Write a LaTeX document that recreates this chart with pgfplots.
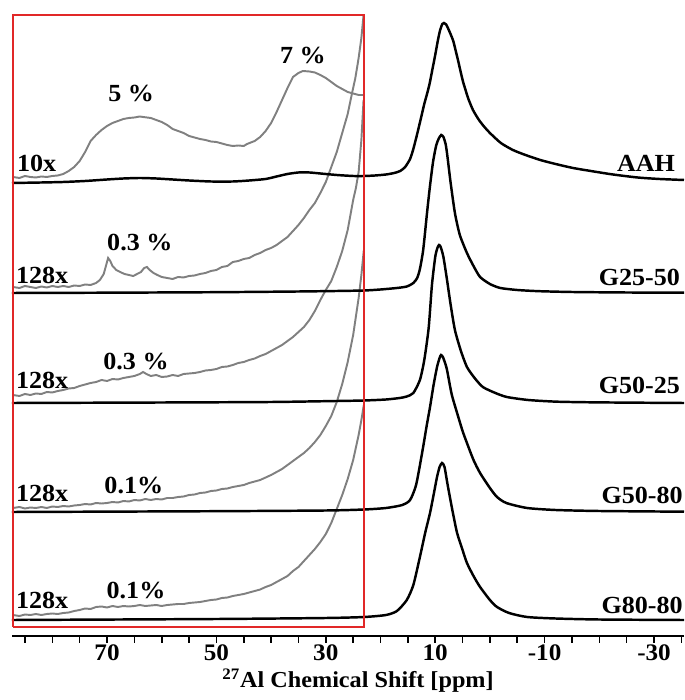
\documentclass[border=0pt]{standalone}
\usepackage{fontspec}
\setmainfont{Liberation Serif}[FakeStretch=1.06]
\usepackage{pgfplots}
\pgfplotsset{compat=1.18}
\definecolor{boxRed}{RGB}{225,40,40}
\definecolor{magGray}{RGB}{128,128,128}
\newcommand{\lab}{\fontsize{14}{16}\selectfont\bfseries}

\begin{document}
\begin{tikzpicture}
\useasboundingbox (-0.24,-1.28) rectangle (13.44,12.72);
\begin{axis}[
    width=13.44cm, height=12.44cm, scale only axis,
    x dir=reverse,
    xmin=-35.48, xmax=87.37,
    ymin=64, ymax=686,
    axis x line*=bottom,
    hide y axis,
    axis line style={line width=1.1pt},
    xtick={-30,-10,10,30,50,70},
    xticklabels={-30,-10,10,30,50,70},
    minor xtick={-35,-25,-20,-15,-5,0,5,15,20,25,35,40,45,55,60,65,75,80,85},
    tick align=outside,
    major tick length=0.13cm, minor tick length=0.13cm,
    tick style={line width=0.9pt, black},
    ticklabel style={font=\fontsize{13.5}{15}\selectfont\bfseries},
    xticklabel style={yshift=2.5pt},
    xlabel={\textsuperscript{27}Al Chemical Shift [ppm]},
    xlabel style={font=\fontsize{13}{15}\selectfont\bfseries, yshift=2pt, xshift=0.2cm},
    clip=false,
]
% magnified traces (gray)
\addplot[magGray, line width=1.1pt] coordinates {
(87.2,523)(86,522)(85,524)(84,523)(83,522.5)(82,523.5)(81,523)(80,524)(79,524.5)(78,526)
(77,529)(76,533)(75,539)(74,548)(73,559)(72,565)(71,570)(70,574)(69,577)(68,579)
(67,581)(66,582)(65,582.5)(64,583.5)(63.4,583)(62,582)(61,580)(60,578)(59,575)(58,571)
(57,569)(56,567)(55,564)(54,562.5)(53,561)(52,560)(51,558.5)(50,558)(49,556.5)(48,555)
(47,554)(46,554.5)(45,554)(44.4,556)(43,559)(42,563)(41,569)(40,577)(39,588)(38,600)
(37,612)(36,623)(35,627)(34.2,629)(33,628.5)(32,627.5)(31,625)(30,622)(29,618)(28,614)
(27,611)(26,608)(25,606.5)(24,605)(23.05,605)};
\addplot[magGray, line width=1.1pt] coordinates {
(87.2,413)(86,412)(85,414)(84,413)(83,412)(82,413.5)(81,412.5)(80,414)(79,413)(78,414)
(77,413)(76,414.5)(75,414)(74,415.5)(73,415)(72,417)(71.3,420)(70.6,426)(70.1,436)(69.8,442)
(69.4,439)(69,434)(68.3,430)(67.6,428)(66.8,426)(66,425)(65.2,424)(64.5,426)(63.8,428)(63.2,432)
(62.7,433)(62.2,430)(61.5,427)(60.8,425)(60,423)(59,422)(58,421)(57,423)(56,422.5)(55,424)
(54,424.5)(53,426)(52,427)(51,429)(50,430)(49,433)(48,434)(47,438)(46,439)(45,441)
(44,442)(43,445)(42,447)(41,450)(40,452)(39,455)(38,459)(37,463)(36,469)(35,475)
(34,482)(33,490)(32,497)(31,507)(30,518)(29,533)(28,548)(27,567)(26,586)(25.2,607)
(24.6,622)(24,642)(23.5,662)(23.1,685)};
\addplot[magGray, line width=1.1pt] coordinates {
(87.2,305)(86,304)(85,306)(84,305)(83,306.5)(82,306)(81,308)(80,307.5)(79,309)(78,310)
(77,311.5)(76,312)(75,314)(74,315.5)(73,317)(72,318)(71,320)(70,319)(69,321)(68,320.5)
(67,322)(66,323)(65,324)(64,326)(63.4,328)(62.8,326)(62,324)(61,325)(60,323)(59,323.5)
(58,325)(57,324)(56,326)(55,326.5)(54,327)(53,328)(52,329.5)(51,330)(50,331)(49,333)
(48,333.5)(47,335)(46,337)(45,338)(44,340)(43,341.5)(42,344)(41,346)(40,349)(39,352)
(38,355)(37,359)(36,363)(35,368)(34,373)(33,380)(32,389)(31,400)(30,410)(29,419)
(28,433)(27,449)(26,470)(25,500)(24.5,512)(24,528)(23.5,560)(23.1,600)};
\addplot[magGray, line width=1.1pt] coordinates {
(87.2,192)(86,193)(85,191.5)(84,192.5)(83,192)(82,193)(81,192)(80,193.5)(79,193)(78,194)
(77,193.5)(76,194.5)(75,195)(74,196)(73,195.5)(72,197)(71,196.5)(70,197)(69,198)(68,197.5)
(67,199)(66,198.5)(65,200)(64,199.5)(63,201)(62,200)(61,201)(60,200.5)(59,202)(58,202)
(57,203)(56,203.5)(55,205)(54,205.5)(53,207)(52,207.5)(51,209)(50,209.5)(49,211)(48,211.5)
(47,213)(46,214)(45,215)(44,217)(43,218.5)(42,220)(41,222.5)(40,225)(39,228)(38,231)
(37,235)(36,239)(35,243)(34,247)(33,252)(32,258)(31,265)(30,274)(29,284)(28,298)
(27,316)(26,338)(25,365)(24,402)(23.5,425)(23.05,450)};
\addplot[magGray, line width=1.1pt] coordinates {
(87.2,85)(86,84)(85,85.5)(84,85)(83,86)(82,85)(81,86)(80,86.5)(79,86)(78,87)
(77,87.5)(76,89)(75,90)(74,91.5)(73,91)(72,93)(71,93.5)(70,92.5)(69,94)(68,93)
(67,94)(66,93.5)(65,94)(64,95)(63,94)(62,94.5)(61,95)(60,94)(59,95)(58,95.5)
(57,96)(56,96)(55,97)(54,97.5)(53,98)(52,99)(51,100)(50,100.5)(49,102)(48,102.5)
(47,104)(46,105)(45,106)(44,107.5)(43,109)(42,110.5)(41,113)(40,115)(39,118)(38,121)
(37,124)(36,129)(35,133)(34,139)(33,145)(32,151)(31,158)(30,166)(29,177)(28,191)
(27,205)(26,221)(25,240)(24,265)(23.5,280)(23.05,295)};
% full spectra (black)
\addplot[black, line width=1.4pt, smooth, tension=0.4] coordinates {
(87.37,517)(82,517.5)(78,518)(74,519)(70,520.5)(67,521.5)(64,522)(61,521.5)(58,520.5)(55,519.5)
(51,518.5)(47,518.5)(44,519.5)(41,521)(39,523.5)(37,526)(35,527.5)(33,527.5)(31,526.5)(28,525)
(25,524)(23,524)(21,524.5)(19,525.5)(17.5,527)(16.4,529)(15.5,533)(14.6,541)(14,551)(13.3,566)
(12.6,582)(12,596)(11.4,608)(11,617)(10.5,631)(10,645)(9.5,660)(9.1,670)(8.7,676)(8.4,677)
(8,675.5)(7.6,671)(7.2,666)(6.7,659)(6.2,648)(5.8,639)(5.3,627)(4.9,618)(4.4,609)(4,602)
(3.1,590)(2,580)(1,573)(0,567)(-2,557)(-4.2,550)(-6.5,545)(-9.2,540)(-12,536)(-15.2,532)
(-19,528.5)(-22.5,525.5)(-27,522.5)(-31,521)(-35.48,520)};
\addplot[black, line width=1.4pt, smooth, tension=0.4] coordinates {
(87.37,407)(70,407.3)(50,407.8)(35,408.5)(28,409)(23,409.5)(20,410.5)(17,412)(15.2,413.5)(14,417)
(13.3,422)(12.8,431)(12.2,450)(11.5,487)(11,512)(10.4,538)(9.8,555)(9.3,562)(8.9,565)(8.5,563)
(8.1,556)(7.8,545)(7.2,518)(6.4,487)(5.5,465)(4.2,447)(3,434)(1.8,423)(0,416)(-1.9,412)
(-5,410)(-9,408.8)(-15,408)(-25,407.5)(-35.48,407.3)};
\addplot[black, line width=1.4pt, smooth, tension=0.4] coordinates {
(87.37,297)(60,297.5)(40,298)(28,299)(23,299.5)(19,300.5)(16.5,302)(15.2,303.5)(14,307)(12.8,320)
(12,340)(11.2,372)(10.6,415)(10,443)(9.6,452)(9.3,455)(9,453)(8.5,443)(7.84,420)(7.2,396)
(6.4,370)(5.3,349)(4.2,333)(2.8,322)(1.3,313)(-1,307)(-3.1,303)(-7,300)(-12.3,298.3)(-20,297.6)
(-35.48,297)};
\addplot[black, line width=1.4pt, smooth, tension=0.4] coordinates {
(87.37,188)(50,188.8)(30,189.5)(23,190.5)(19,192)(16,195)(14.6,200)(13.5,215)(12.4,247)(11.6,273)
(10.95,293)(10.3,315)(9.67,333)(9.2,342)(8.94,345)(8.6,343)(8.2,337)(7.84,330)(7,306)(6,287)
(5,269)(4.2,257)(3,240)(1.8,227)(0,212)(-1.3,203)(-3,197)(-6.8,192)(-12,190)(-20,189)
(-35.48,188.3)};
\addplot[black, line width=1.4pt, smooth, tension=0.4] coordinates {
(87.37,80)(50,81)(30,82)(23,83)(19,85)(17,89)(15.2,100)(14,115)(12.8,143)(11.8,168)
(10.95,187)(10.3,205)(9.67,223)(9.2,233)(8.76,237)(8.3,233)(7.66,213)(6.8,188)(6,167)(5,150)
(4.2,137)(3,124)(1.8,113)(0,100)(-1.3,93)(-3.5,87)(-6.8,83)(-12,81.5)(-20,80.5)(-35.48,80)};
% zoom frame
\addplot[boxRed, line width=0.8pt] coordinates {(87.2,73)(23.0,73)(23.0,685)(87.2,685)(87.2,73)};
% annotations
\node[font=\lab, anchor=west, inner sep=0pt] at (axis cs:86.5,537) {10x};
\node[font=\lab] at (axis cs:65.6,607) {5 \%};
\node[font=\lab] at (axis cs:34.2,645) {7 \%};
\node[font=\lab, anchor=west, inner sep=0pt] at (axis cs:86.7,425) {128x};
\node[font=\lab] at (axis cs:64.0,457) {0.3 \%};
\node[font=\lab, anchor=west, inner sep=0pt] at (axis cs:86.7,320) {128x};
\node[font=\lab] at (axis cs:64.7,339) {0.3 \%};
\node[font=\lab, anchor=west, inner sep=0pt] at (axis cs:86.7,207) {128x};
\node[font=\lab] at (axis cs:65.1,215) {0.1\%};
\node[font=\lab, anchor=west, inner sep=0pt] at (axis cs:86.7,100) {128x};
\node[font=\lab] at (axis cs:64.7,110) {0.1\%};
\node[font=\lab, anchor=east, inner sep=0pt] at (axis cs:-33.9,537) {AAH};
\node[font=\lab, anchor=east, inner sep=0pt] at (axis cs:-34.8,423) {G25-50};
\node[font=\lab, anchor=east, inner sep=0pt] at (axis cs:-34.8,315) {G50-25};
\node[font=\lab, anchor=east, inner sep=0pt] at (axis cs:-35.3,205) {G50-80};
\node[font=\lab, anchor=east, inner sep=0pt] at (axis cs:-35.3,95) {G80-80};
\end{axis}
\end{tikzpicture}
\end{document}
